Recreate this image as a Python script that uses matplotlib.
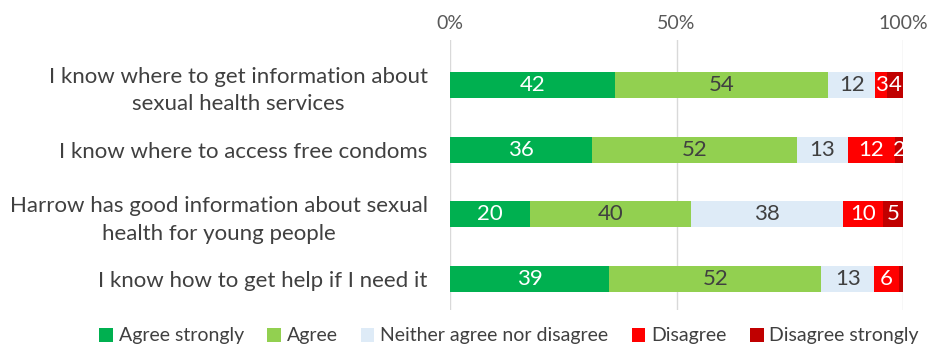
import matplotlib as mpl
mpl.use('Agg')
import matplotlib.pyplot as plt
import numpy as np

questions = ['I know where to get information about\nsexual health services',
             'I know where to access free condoms',
             'Harrow has good information about sexual\nhealth for young people',
             'I know how to get help if I need it']
series = ['Agree strongly', 'Agree', 'Neither agree nor disagree', 'Disagree', 'Disagree strongly']
agree_strongly = [42, 36, 20, 39]
agree = [54, 52, 40, 52]
neither = [12, 13, 38, 13]
disagree = [3, 12, 10, 6]
disagree_strongly = [4, 2, 5, 1]
colors = ['#00B050', '#92D050', '#DEEBF7', '#FF0000', '#C00000']
text_colors = ['white', '#404040', '#404040', 'white', 'white']

plt.rcParams['font.family'] = ['Lato', 'DejaVu Sans']

counts = np.array([agree_strongly, agree, neither, disagree, disagree_strongly], dtype=float)
pct = counts / counts.sum(axis=0) * 100

fig = plt.figure(figsize=(9.34, 3.5), dpi=100)
ax = fig.add_axes([450/934, 40/350, 453/934, 270/350])
y = np.arange(len(questions))
left = np.zeros(len(questions))
for k in range(len(series)):
    ax.barh(y, pct[k], left=left, height=0.4, color=colors[k], label=series[k], zorder=2)
    for i in range(len(questions)):
        c = counts[k, i]
        # tiny last segment in row 4 has no label in the original
        if pct[k, i] > 1:
            ax.text(left[i] + pct[k, i] / 2, y[i], str(int(c)), ha='center', va='center',
                    fontsize=16, color=text_colors[k], zorder=3)
    left += pct[k]

ax.set_xlim(0, 100)
ax.set_ylim(3 + 31/65, -45/65)
ax.set_xticks([0, 50, 100])
ax.set_xticklabels(['0%', '50%', '100%'])
ax.xaxis.tick_top()
ax.tick_params(axis='x', length=0, labelsize=14, labelcolor='#595959', pad=6)
ax.set_yticks(y)
ax.set_yticklabels(questions)
ax.tick_params(axis='y', length=0, labelsize=16, labelcolor='#404040', pad=16)
for t in ax.get_yticklabels():
    t.set_horizontalalignment('right')
    t.set_multialignment('center')
    t.set_linespacing(1.45)
ax.grid(axis='x', color='#D9D9D9', linewidth=1, zorder=0)
for s in ax.spines.values():
    s.set_visible(False)

fig.legend(loc='center', bbox_to_anchor=(0.545, 1 - 336/350), ncol=5, frameon=False,
           fontsize=14, handlelength=0.7, handleheight=0.7, handletextpad=0.3,
           columnspacing=1.2, labelcolor='#404040')
fig.savefig('out.png', dpi=100)
